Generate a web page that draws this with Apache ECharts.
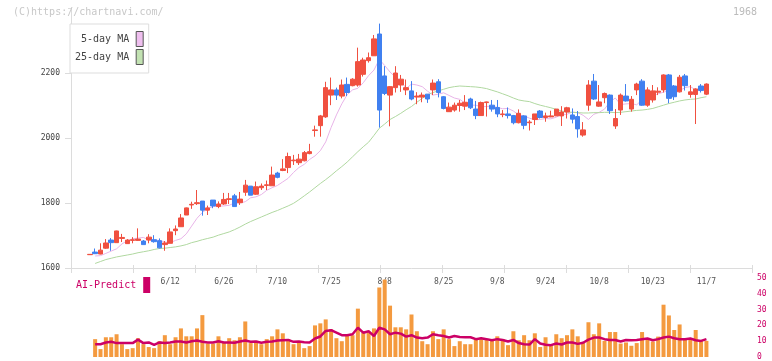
<!DOCTYPE html>
<html><head><meta charset="utf-8">
<script src="https://cdn.jsdelivr.net/npm/echarts@6/dist/echarts.min.js"></script>
<style>html,body{margin:0;padding:0;background:#fff}#c{width:772px;height:361px}</style>
</head><body><div id="c"></div>
<script>
const dates = ['5/22','5/23','5/24','5/27','5/28','5/29','5/30','5/31',
'6/3','6/4','6/5','6/6','6/7','6/10','6/11','6/12','6/13','6/14','6/17','6/18','6/19','6/20','6/21','6/24','6/25','6/26','6/27','6/28',
'7/1','7/2','7/3','7/4','7/5','7/8','7/9','7/10','7/11','7/12','7/16','7/17','7/18','7/19','7/22','7/23','7/24','7/25','7/26','7/29','7/30','7/31',
'8/1','8/2','8/5','8/6','8/7','8/8','8/9','8/13','8/14','8/15','8/16','8/19','8/20','8/21','8/22','8/23','8/26','8/27','8/28','8/29','8/30',
'9/2','9/3','9/4','9/5','9/6','9/9','9/10','9/11','9/12','9/13','9/17','9/18','9/19','9/20','9/24','9/25','9/26','9/27','9/30',
'10/1','10/2','10/3','10/4','10/7','10/8','10/9','10/10','10/11','10/15','10/16','10/17','10/18','10/21','10/22','10/23','10/24','10/25','10/28','10/29','10/30','10/31',
'11/1','11/5','11/6','11/7'];

const opens = [1641,1649,1643,1661,1686,1678,1691,1675,1685,1685,
1683,1686,1687,1684,1672,1676,1715,1727,1763,1794,
1798,1806,1778,1809,1789,1797,1811,1822,1801,1833,
1852,1827,1847,1854,1853,1892,1900,1909,1930,1924,
1930,1952,2023,2038,2065,2132,2148,2129,2165,2161,
2163,2196,2238,2253,2320,2191,2132,2155,2163,2148,
2145,2126,2126,2135,2148,2173,2127,2081,2086,2100,
2098,2120,2089,2069,2109,2101,2094,2072,2074,2069,
2047,2068,2047,2057,2083,2063,2065,2068,2068,2080,
2071,2066,2009,2101,2175,2098,2124,2132,2037,2086,
2129,2089,2148,2175,2101,2117,2141,2148,2194,2160,
2142,2191,2134,2134,2160,2135];
const closes = [1642,1644,1655,1677,1678,1714,1694,1686,1687,1689,
1672,1695,1681,1662,1677,1711,1720,1754,1785,1796,
1801,1778,1785,1791,1797,1811,1813,1789,1812,1855,
1824,1850,1852,1856,1886,1879,1905,1943,1932,1935,
1955,1958,2025,2068,2155,2148,2132,2163,2140,2181,
2235,2240,2247,2305,2086,2137,2158,2200,2181,2155,
2120,2129,2132,2120,2169,2140,2091,2095,2101,2107,
2110,2093,2069,2109,2111,2089,2074,2074,2069,2047,
2076,2039,2049,2074,2063,2068,2068,2089,2080,2093,
2058,2028,2025,2163,2120,2111,2137,2084,2060,2132,
2114,2119,2166,2101,2148,2145,2144,2194,2122,2127,
2187,2161,2142,2151,2146,2166];
const lows = [1641,1643,1642,1659,1653,1678,1680,1675,1676,1683,
1672,1676,1678,1660,1653,1676,1701,1727,1763,1782,
1794,1761,1763,1784,1784,1794,1797,1789,1794,1822,
1824,1825,1840,1840,1853,1876,1898,1892,1917,1917,
1928,1950,2004,2004,2062,2101,2117,2122,2129,2159,
2158,2189,2232,2253,2032,2132,2036,2140,2142,2132,
2116,2104,2110,2108,2132,2125,2088,2080,2081,2081,
2086,2089,2058,2069,2066,2081,2064,2064,2060,2042,
2045,2027,2023,2040,2060,2050,2064,2068,2037,2060,
2045,2001,2004,2084,2117,2096,2107,2074,2028,2071,
2112,2081,2132,2099,2096,2109,2132,2140,2107,2117,
2140,2146,2124,2043,2140,2132];
const highs = [1642,1660,1676,1689,1692,1715,1705,1689,1695,1722,
1686,1704,1701,1691,1683,1722,1731,1766,1786,1804,
1840,1806,1792,1809,1805,1831,1831,1828,1834,1871,
1852,1866,1860,1869,1912,1896,1935,1955,1948,1951,
1960,1982,2038,2071,2173,2186,2155,2180,2186,2184,
2278,2247,2263,2317,2352,2221,2160,2221,2194,2180,
2175,2141,2140,2135,2180,2181,2129,2109,2109,2117,
2132,2124,2114,2112,2112,2117,2117,2086,2094,2071,
2088,2070,2055,2074,2086,2078,2084,2089,2098,2096,
2091,2083,2049,2178,2197,2163,2140,2134,2089,2137,
2166,2129,2170,2181,2156,2163,2156,2196,2197,2163,
2194,2197,2163,2153,2166,2168];

const ma5 = ['-',1637,1638,1645,1652,1659,1674,1684,1690,1692,
1694,1686,1686,1685,1680,1678,1685,1690,1705,1729,
1753,1771,1783,1789,1790,1791,1793,1800,1800,1804,
1816,1819,1826,1839,1847,1854,1865,1876,1894,1909,
1919,1934,1945,1961,1988,2032,2071,2105,2133,2148,
2153,2170,2192,2209,2242,2223,2203,2187,2177,2152,
2166,2163,2158,2144,2132,2135,2139,2131,2123,2119,
2107,2101,2101,2096,2097,2098,2094,2090,2091,2083,
2071,2068,2061,2056,2057,2060,2059,2064,2072,2073,
2080,2078,2070,2057,2073,2079,2089,2111,2123,2103,
2105,2106,2102,2118,2127,2130,2136,2141,2146,2150,
2146,2155,2158,2148,2154,2157];
const ma25 = ['-',1614,1620,1626,1630,1634,1637,1640,1643,1647,
1650,1653,1657,1660,1661,1663,1665,1668,1672,1678,
1682,1687,1691,1695,1701,1706,1711,1718,1726,1735,
1743,1750,1757,1764,1771,1777,1784,1791,1799,1810,
1822,1834,1847,1860,1872,1885,1899,1912,1926,1942,
1958,1973,1987,2008,2030,2043,2057,2066,2076,2087,
2097,2110,2122,2133,2140,2145,2150,2155,2158,2160,
2159,2158,2157,2155,2152,2147,2142,2136,2130,2123,
2117,2114,2112,2106,2101,2097,2093,2088,2083,2080,
2079,2078,2077,2077,2078,2078,2079,2079,2078,2079,
2081,2083,2085,2086,2088,2091,2096,2101,2106,2110,
2114,2117,2119,2120,2124,2127];
const volume = ['-',11.3,5,12.5,12.5,14.4,8.1,5,5.6,11.9,
8.1,6.3,5.6,10,13.8,8.1,12.5,18.1,13.1,13.1,
18.1,26.5,8.5,8.5,13.1,9,11.9,10.6,12.5,22.5,
8.8,10.2,8.1,11.3,13.1,17.5,15,11.3,8.1,9.4,
5.6,6.9,20,21.3,23.8,17.5,11.9,10,13.8,13.8,
30.6,15.6,15.6,18.1,44,49,32.5,18.8,18.8,17.5,
26.9,16.3,10,8.1,16.3,11.3,17.5,11.3,6.9,10,
8.1,8.1,11.3,11.3,11.3,10.6,13.1,11.3,7.5,16.3,
10.6,13.8,10.6,15,6.3,12.5,7.5,14.4,11.9,13.8,
17.5,13.1,9,22,14.4,21.3,10.2,15.8,15.8,8.5,
9.2,7.1,8.8,15.8,11.3,9.8,12.9,33.1,26.3,17.1,
20.6,11.3,11.3,17.1,10.2,10.2];
const aiPredict = ['-',8.1,8.1,9.2,9.6,8.8,8.8,8.8,8.8,11,
8.8,9.2,7.7,9.2,8.8,9.2,9.8,9.8,9.2,10,
10.4,9.6,9.2,9.2,10,9.2,9.2,9,9.8,10.4,
9.6,9.8,9,9.6,9.8,10.4,10.6,10.8,9.6,9.8,
9.4,9.2,11.7,13,16.5,17,15.4,13.8,13.8,14.4,
18.5,15.4,16.3,13.3,18.5,17.5,14.4,15.4,14.8,12.9,
13.8,12.3,11.9,12.3,14.4,13.8,13.3,12.3,13.3,12.7,
12.5,12.5,11.3,11.9,11.3,10.6,11.3,10.8,9.8,10.8,
8.8,8.1,7.9,11.3,8.5,7.7,7.5,8.5,7.9,9.2,
9.2,8.3,9,11,12.3,12.3,11.3,10.8,10.8,9.8,
10.8,10.6,10.8,11.3,11.7,10.6,11.3,12.3,12.9,11.9,
11.3,11.3,11.7,10.6,10.2,11.3];

const tickDates = ['6/12','6/26','7/10','7/25','8/8','8/26','9/9','9/24','10/8','10/23','11/7'];
const tickTexts = ['6/12','6/26','7/10','7/25','8/8','8/25','9/8','9/24','10/8','10/23','11/7'];
const priceTicks = [1600, 2400, 200];
const volTicks = [0, 50, 10];

// layout constants
const PAD_L = 3, PAD_R = 8;
const FONT = 'DejaVu Sans Mono';
const GRAY = '#dcdcdc';
const UP = '#f05040', DOWN = '#4080f0';

const cats = [];
for (let i = 0; i < PAD_L; i++) cats.push('_l' + i);
dates.forEach(d => cats.push(d));
for (let i = 0; i < PAD_R; i++) cats.push('_r' + i);
const tickMap = {};
tickDates.forEach((d, i) => { tickMap[d] = tickTexts[i]; });

const candleRows = dates.map((d, i) => [d, opens[i], closes[i], lows[i], highs[i]]);
const rows = arr => dates.map((d, i) => [d, arr[i]]);

const chart = echarts.init(document.getElementById('c'), null, {renderer: 'canvas'});
chart.setOption({
  animation: false,
  textStyle: {fontFamily: FONT},
  title: [
    {text: '(C)https://chartnavi.com/', left: 13, top: 7, padding: 0,
     textStyle: {fontFamily: FONT, fontSize: 10, fontWeight: 'normal', color: '#c8c8c8'}},
    {text: '1968', right: 15, top: 7, padding: 0,
     textStyle: {fontFamily: FONT, fontSize: 10, fontWeight: 'normal', color: '#bbbbbb'}}
  ],
  legend: [
    {orient: 'vertical', left: 70, top: 24, align: 'right', selectedMode: false,
     data: [{name: '5-day MA', itemStyle: {color: '#efbfef'}}, {name: '25-day MA', itemStyle: {color: '#c2e2b2'}}],
     icon: 'rect', itemWidth: 7, itemHeight: 15, itemGap: 2,
     padding: [7, 5, 8, 5], borderColor: '#dddddd', borderWidth: 1, backgroundColor: '#fff',
     itemStyle: {borderColor: '#555', borderWidth: 1},
     formatter: n => n.padStart(9, ' '),
     textStyle: {fontFamily: FONT, fontSize: 10, color: '#444', padding: [0, 2, 0, 0]}},
    {orient: 'horizontal', left: 76, top: 277, align: 'right', selectedMode: false, padding: 0,
     data: [{name: 'AI-Predict', itemStyle: {color: '#cc0066'}}],
     icon: 'rect', itemWidth: 7, itemHeight: 16,
     itemStyle: {borderWidth: 0},
     textStyle: {fontFamily: FONT, fontSize: 10, color: '#cc0066', padding: [0, 2, 0, 0]}}
  ],
  grid: [
    {left: 71, right: 20, top: 8, height: 260},
    {left: 71, right: 20, top: 278, height: 80}
  ],
  xAxis: [
    {type: 'category', gridIndex: 0, data: cats, boundaryGap: true,
     axisLine: {show: true, lineStyle: {color: GRAY}}, axisTick: {show: false},
     splitLine: {show: false},
     axisLabel: {interval: (idx, v) => tickMap.hasOwnProperty(v), formatter: v => tickMap[v] || '',
                 fontFamily: FONT, fontSize: 8, color: '#555', margin: 10}},
    {type: 'value', gridIndex: 0, position: 'bottom', min: 0, max: 11, interval: 1,
     axisLine: {show: false}, axisLabel: {show: false}, splitLine: {show: false},
     axisTick: {show: true, inside: true, length: 3, lineStyle: {color: GRAY}}},
    {type: 'value', gridIndex: 0, position: 'bottom', min: 0, max: 11, interval: 1,
     axisLine: {show: false}, axisLabel: {show: false}, splitLine: {show: false},
     axisTick: {show: true, inside: false, length: 5, lineStyle: {color: GRAY}}},
    {type: 'category', gridIndex: 1, data: cats, boundaryGap: true, show: false}
  ],
  yAxis: [
    {type: 'value', gridIndex: 0, min: priceTicks[0], max: priceTicks[1], interval: priceTicks[2],
     axisLine: {show: true, lineStyle: {color: GRAY}},
     axisTick: {show: true, length: 6, lineStyle: {color: GRAY}},
     axisLabel: {fontFamily: FONT, fontSize: 8, color: '#444', margin: 11, showMaxLabel: false,
                 formatter: v => String(v)},
     splitLine: {show: false}},
    {type: 'value', gridIndex: 0, min: priceTicks[0], max: priceTicks[1], interval: priceTicks[2],
     axisLine: {show: false}, axisLabel: {show: false}, splitLine: {show: false},
     axisTick: {show: true, inside: true, length: 3, lineStyle: {color: GRAY}}},
    {type: 'value', gridIndex: 1, position: 'right', min: volTicks[0], max: volTicks[1], interval: volTicks[2],
     axisLine: {show: false}, axisTick: {show: false}, splitLine: {show: false},
     axisLabel: {fontFamily: FONT, fontSize: 8, color: '#cc0066', margin: 5}}
  ],
  series: [
    {type: 'line', name: '5-day MA', xAxisIndex: 0, yAxisIndex: 0, data: rows(ma5),
     symbol: 'none', lineStyle: {color: '#e8b4e8', width: 1}, itemStyle: {color: '#e8b4e8'}, z: 2},
    {type: 'line', name: '25-day MA', xAxisIndex: 0, yAxisIndex: 0, data: rows(ma25),
     symbol: 'none', lineStyle: {color: '#b0d8a0', width: 1}, itemStyle: {color: '#b0d8a0'}, z: 2},
    {type: 'candlestick', name: 'price', xAxisIndex: 0, yAxisIndex: 0,
     encode: {x: 0, y: [1, 2, 3, 4]}, data: candleRows, barWidth: 5,
     itemStyle: {color: UP, color0: DOWN, borderColor: UP, borderColor0: DOWN, borderWidth: 1}, z: 3},
    {type: 'bar', name: 'volume', xAxisIndex: 3, yAxisIndex: 2, data: rows(volume),
     barWidth: 4, itemStyle: {color: '#f49a3f'}},
    {type: 'line', name: 'AI-Predict', xAxisIndex: 3, yAxisIndex: 2, data: rows(aiPredict),
     symbol: 'none', lineStyle: {color: '#cc0066', width: 2.5}, itemStyle: {color: '#cc0066'}, z: 3}
  ]
});
</script>
</body></html>
